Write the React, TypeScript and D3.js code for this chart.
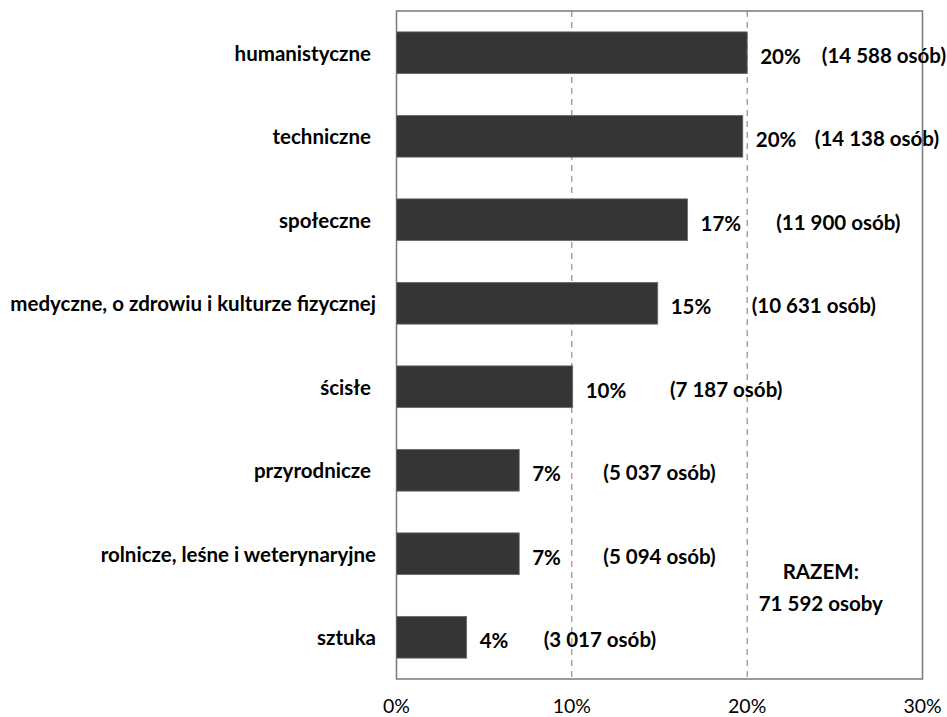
import React from "react";
import * as d3 from "d3";

const categories = [
  "humanistyczne ",
  "techniczne ",
  "społeczne ",
  "medyczne, o zdrowiu i kulturze fizycznej",
  "ścisłe ",
  "przyrodnicze ",
  "rolnicze, leśne i weterynaryjne",
  "sztuka",
];
const shares = [20.0, 19.75, 16.6, 14.9, 10.05, 7.0, 7.0, 4.0];
const shareLabels = ["20%", "20%", "17%", "15%", "10%", "7%", "7%", "4%"];
const countLabels = [
  "(14 588 osób)",
  "(14 138 osób)",
  "(11 900 osób)",
  "(10 631 osób)",
  "(7 187 osób)",
  "(5 037 osób)",
  "(5 094 osób)",
  "(3 017 osób)",
];
// where each count label is centred, in axis units (%)
const countLabelAt = [27.8, 27.4, 25.2, 23.8, 18.8, 15.0, 15.0, 11.6];
const ticks = [0, 10, 20, 30];
const totalLines = ["RAZEM:", "71 592 osoby"];

const W = 947;
const H = 717;
const M = { left: 396.5, right: 24.5, top: 11, bottom: 38 };
const FONT = "Lato, 'Open Sans', sans-serif";
const FS = 20.5;

export default function App() {
  const x = d3.scaleLinear().domain([0, 30]).range([M.left, W - M.right]);
  const y = d3
    .scaleBand<string>()
    .domain(categories)
    .range([M.top, H - M.bottom])
    .paddingInner(0.5)
    .paddingOuter(0.25);
  const bottom = H - M.bottom;
  return (
    <svg
      width={W}
      height={H}
      style={{ position: "absolute", left: 0, top: 0, background: "#fff" }}
      fontFamily={FONT}
    >
      {ticks.slice(1, -1).map((t) => (
        <line
          key={t}
          x1={x(t)}
          x2={x(t)}
          y1={M.top}
          y2={bottom}
          stroke="#777"
          strokeWidth={1}
          strokeDasharray="6,5"
        />
      ))}
      <rect
        x={M.left}
        y={M.top}
        width={x(30) - M.left}
        height={bottom - M.top}
        fill="none"
        stroke="#7a7a7a"
        strokeWidth={1.5}
      />
      {categories.map((c, i) => (
        <rect
          key={c}
          x={x(0)}
          y={y(c)!}
          width={x(shares[i]) - x(0)}
          height={y.bandwidth()}
          fill="#353535"
          stroke="#6a6a6a"
          strokeWidth={0.8}
        />
      ))}
      {categories.map((c) => (
        <text
          key={c}
          x={376}
          y={y(c)! + y.bandwidth() / 2}
          textAnchor="end"
          dominantBaseline="central"
          fontSize={FS}
          fontWeight="bold"
          fill="#000"
          style={{ whiteSpace: "pre" }}
        >
          {c}
        </text>
      ))}
      {categories.map((c, i) => (
        <text
          key={c}
          x={x(shares[i]) + 13}
          y={y(c)! + y.bandwidth() / 2 + 3}
          dominantBaseline="central"
          fontSize={FS}
          fontWeight="bold"
          fill="#000"
        >
          {shareLabels[i]}
        </text>
      ))}
      {categories.map((c, i) => (
        <text
          key={c}
          x={x(countLabelAt[i])}
          y={y(c)! + y.bandwidth() / 2 + 2}
          textAnchor="middle"
          dominantBaseline="central"
          fontSize={FS}
          fontWeight="bold"
          fill="#000"
        >
          {countLabels[i]}
        </text>
      ))}
      {totalLines.map((t, i) => (
        <text
          key={t}
          x={x(24.2)}
          y={571 + i * 32}
          textAnchor="middle"
          dominantBaseline="central"
          fontSize={FS}
          fontWeight="bold"
          fill="#000"
        >
          {t}
        </text>
      ))}
      {ticks.map((t) => (
        <text
          key={t}
          x={x(t)}
          y={713}
          textAnchor="middle"
          fontSize={19.5}
          fill="#000"
        >
          {`${t}%`}
        </text>
      ))}
    </svg>
  );
}
